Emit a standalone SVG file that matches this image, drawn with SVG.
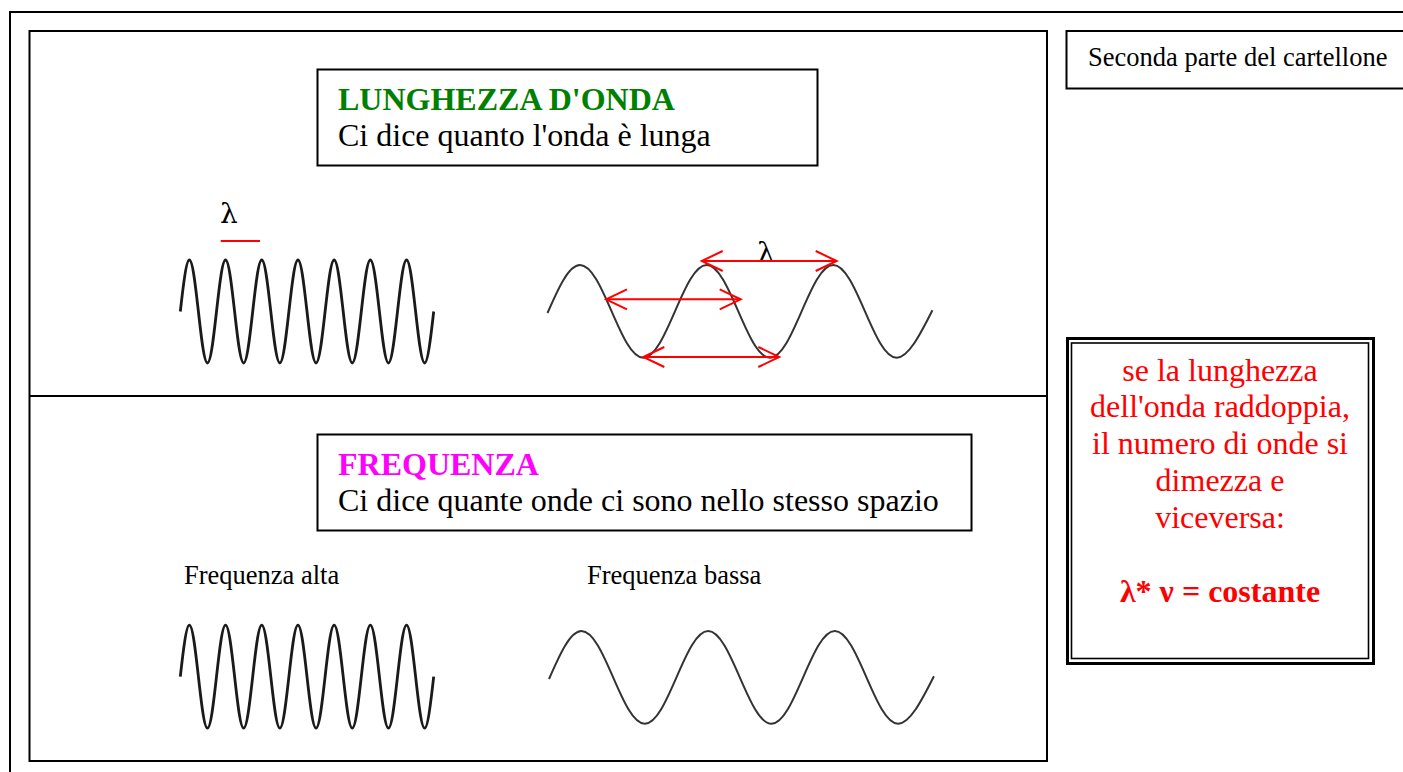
<svg xmlns="http://www.w3.org/2000/svg" width="1403" height="772" viewBox="0 0 1403 772">
<style>
.frame{fill:none;stroke:#000;stroke-width:2}
.box{fill:#fff;stroke:#000;stroke-width:2}
.t{font-family:"Liberation Serif","Times New Roman",serif;fill:#000}
.big{font-size:32px}
.small{font-size:26.5px}
.red{fill:#ff0000}
.lam{font-family:"DejaVu Serif","Liberation Serif",serif;font-size:28px;fill:#000}
.fast{fill:none;stroke:#1a1a1a;stroke-width:2.8;stroke-linejoin:round}
.slow{fill:none;stroke:#333;stroke-width:2}
.arr{fill:none;stroke:#ff0000;stroke-width:2;marker-start:url(#ah);marker-end:url(#ah)}
</style>
<defs>
<marker id="ah" viewBox="-23 -12 25 24" refX="0" refY="0" markerWidth="25" markerHeight="24" markerUnits="userSpaceOnUse" orient="auto-start-reverse">
<path d="M-21,-10 L0,0 L-21,10" fill="none" stroke="#ff0000" stroke-width="2"/>
</marker>
<path id="fastwave" d="M180.3,311.5 c3.02,-26.97 6.04,-51.5 9.05,-51.5 c6.58,0 11.52,103 18.1,103 s11.52,-103 18.1,-103 s11.52,103 18.1,103 s11.52,-103 18.1,-103 s11.52,103 18.1,103 s11.52,-103 18.1,-103 s11.52,103 18.1,103 s11.52,-103 18.1,-103 s11.52,103 18.1,103 s11.52,-103 18.1,-103 s11.52,103 18.1,103 s11.52,-103 18.1,-103 s11.52,103 18.1,103 c3.02,0 6.04,-24.53 9.05,-51.5"/>
<path id="slowwave" d="M547.5,313 c10.56,-24.27 21.11,-48 32.47,-48 c23.02,0 40.32,92.7 63.33,92.7 s40.32,-92.7 63.33,-92.7 s40.32,92.7 63.33,92.7 s40.32,-92.7 63.33,-92.7 s40.32,92.7 63.33,92.7 c11.5,0 23,-22.08 35.8,-47.5"/>
</defs>
<rect width="1403" height="772" fill="#fff"/>
<g id="outer-frame">
<rect class="frame" x="10" y="12" width="1500" height="800"/>
</g>
<g id="panel">
<rect class="frame" x="29.5" y="31" width="1017.5" height="730"/>
<line x1="29.5" y1="396" x2="1047" y2="396" stroke="#000" stroke-width="2"/>
</g>
<g id="box-lunghezza">
<rect class="box" x="317.5" y="69.5" width="500" height="96"/>
<text class="t big" x="338" y="110" font-weight="bold" style="fill:#008000">LUNGHEZZA D'ONDA</text>
<text class="t big" x="338" y="146">Ci dice quanto l'onda è lunga</text>
</g>
<g id="box-frequenza">
<rect class="box" x="317.5" y="434.5" width="654" height="96"/>
<text class="t big" x="338" y="475" font-weight="bold" style="fill:#ff00ff">FREQUENZA</text>
<text class="t big" x="338" y="511">Ci dice quante onde ci sono nello stesso spazio</text>
</g>
<g id="box-seconda">
<rect class="box" x="1066.5" y="31" width="400" height="57.5"/>
<text class="t" x="1088" y="66" font-size="26.5">Seconda parte del cartellone</text>
</g>
<g id="box-rule">
<rect fill="#fff" stroke="#000" stroke-width="3" x="1067.5" y="338.5" width="306" height="325"/>
<rect fill="none" stroke="#000" stroke-width="1.6" x="1071.5" y="343" width="297" height="315.5"/>
<g class="t big red" text-anchor="middle">
<text x="1220" y="380.5">se la lunghezza</text>
<text x="1220" y="417.3">dell'onda raddoppia,</text>
<text x="1220" y="454.1">il numero di onde si</text>
<text x="1220" y="490.9">dimezza e</text>
<text x="1220" y="527.7">viceversa:</text>
<text x="1220" y="601.5" font-weight="bold">λ* ν = costante</text>
</g>
</g>
<g id="wave-fast-top">
<use href="#fastwave" class="fast"/>
<text class="lam" x="220" y="223">λ</text>
<line x1="220.7" y1="241" x2="260" y2="241" stroke="#ff0000" stroke-width="2"/>
</g>
<g id="wave-slow-top">
<use href="#slowwave" class="slow"/>
<text class="lam" x="757" y="262">λ</text>
</g>
<g id="connectors">
<line class="arr" x1="701.7" y1="261" x2="836.7" y2="261"/>
<line class="arr" x1="606" y1="299.3" x2="740.7" y2="299.3"/>
<line class="arr" x1="643.3" y1="357" x2="779.3" y2="357"/>
</g>
<g id="label-alta">
<text class="t small" x="184" y="584">Frequenza alta</text>
</g>
<g id="label-bassa">
<text class="t small" x="587" y="584">Frequenza bassa</text>
</g>
<g id="wave-fast-bottom">
<use href="#fastwave" class="fast" transform="translate(0,365.1)"/>
</g>
<g id="wave-slow-bottom">
<use href="#slowwave" class="slow" transform="translate(1.5,366)"/>
</g>
</svg>
